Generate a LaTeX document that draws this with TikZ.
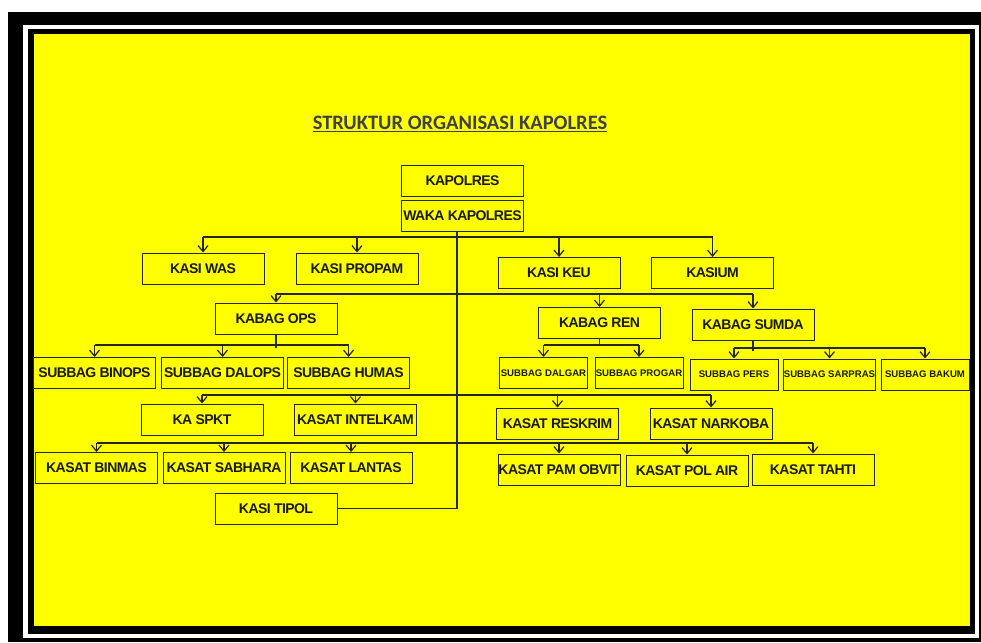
\documentclass[tikz,border=0pt]{standalone}
\usepackage{fontspec}
\setmainfont{Liberation Sans}
\newfontfamily\titlefont{Carlito}
\newfontfamily\boxfont[LetterSpace=-4]{Liberation Sans}
\usetikzlibrary{arrows.meta}
\definecolor{bgyellow}{RGB}{255,255,0}

\begin{document}
\begin{tikzpicture}[
      x=1pt, y=-1pt,
      line width=1.2pt,
      box/.style={draw=black!85, line width=1pt, minimum width=122pt,
        minimum height=31pt, inner sep=0pt, text=black!90,
        font=\boxfont\fontsize{14}{16}\selectfont\bfseries},
      small/.style={box, minimum width=88pt,
        font=\fontsize{9.6}{11}\selectfont\bfseries},
      arr/.style={-{Straight Barb[length=6pt,width=10pt]}},
      wire/.style={draw=black!85}]

    % frame & fill
    \fill[white] (0,0) rectangle (981,642);
    \fill[black] (8,12) rectangle (981,642);
    \fill[white] (23,25) rectangle (979,638);
    \fill[black] (28,29) rectangle (975,634);
    \fill[bgyellow] (34,34) rectangle (970,626);

    % title
    \node[text=black!75] (title) at (460,124)
      {\titlefont\fontsize{20.5}{22}\selectfont\bfseries\underline{STRUKTUR ORGANISASI KAPOLRES}};

    % top
    \node[box] (kapolres) at (462.5,181) {KAPOLRES};
    \node[box] (waka) at (462.5,216) {WAKA KAPOLRES};

    % kasi y=270
    \node[box] (kasiwas) at (203,268.5) {KASI WAS};
    \node[box] (propam) at (357,268.5) {KASI PROPAM};
    \node[box] (keu) at (559,273) {KASI KEU};
    \node[box] (kasium) at (712.5,273) {KASIUM};

    % kabag y=320
    \node[box] (ops) at (276,318.5) {KABAG OPS};
    \node[box] (ren) at (599.5,323) {KABAG REN};
    \node[box] (sumda) at (753,324.5) {KABAG SUMDA};

    % subbag y=373
    \node[box] (binops) at (94.5,373) {SUBBAG BINOPS};
    \node[box] (dalops) at (222.5,373) {SUBBAG DALOPS};
    \node[box] (humas) at (348.5,373) {SUBBAG HUMAS};
    \node[small] (dalgar) at (543.5,373) {SUBBAG DALGAR};
    \node[small] (progar) at (639,373) {SUBBAG PROGAR};
    \node[small] (pers) at (734,374.5) {SUBBAG PERS};
    \node[small] (sarpras) at (829.5,374.5) {SUBBAG SARPRAS};
    \node[small] (bakum) at (925,374.5) {SUBBAG BAKUM};

    % kasat y=420
    \node[box] (spkt) at (202,419.5) {KA SPKT};
    \node[box] (intelkam) at (355.5,419.5) {KASAT INTELKAM};
    \node[box] (reskrim) at (557.5,423.5) {KASAT RESKRIM};
    \node[box] (narkoba) at (711,423.5) {KASAT NARKOBA};

    % kasat y=468
    \node[box] (binmas) at (96.5,468) {KASAT BINMAS};
    \node[box] (sabhara) at (224,468) {KASAT SABHARA};
    \node[box] (lantas) at (351,468) {KASAT LANTAS};
    \node[box] (pamobvit) at (559,469.5) {KASAT PAM OBVIT};
    \node[box] (polair) at (687,470.5) {KASAT POL AIR};
    \node[box] (tahti) at (813,469.5) {KASAT TAHTI};

    \node[box] (tipol) at (276,508.5) {KASI TIPOL};

    % bus lines
    \coordinate (bus1) at (0,237);
    \coordinate (bus2) at (0,294);
    \coordinate (bus3) at (0,345);
    \coordinate (bus3b) at (0,348);
    \coordinate (bus4) at (0,395);
    \coordinate (bus5) at (0,443);

    % wiring (trunk)
    \draw[wire] ([xshift=-5.5pt]waka.south) |- (tipol.east);

    % wiring (kasi)
    \draw[wire] (bus1 -| kasiwas.north) -- (bus1 -| kasium.north);
    \foreach \n in {kasiwas,propam,keu,kasium}
      \draw[wire,arr] (bus1 -| \n.north) -- (\n.north);

    % wiring (kabag)
    \draw[wire] (bus2 -| ops.north) -- (bus2 -| sumda.north);
    \foreach \n in {ops,ren,sumda}
      \draw[wire,arr] (bus2 -| \n.north) -- (\n.north);

    % wiring (subbag)
    \draw[wire] (ops.south) -- ([yshift=-3pt]bus3 -| ops.south);
    \draw[wire] (bus3 -| binops.north) -- (bus3 -| humas.north);
    \foreach \n in {binops,dalops,humas}
      \draw[wire,arr] (bus3 -| \n.north) -- (\n.north);
    \draw[wire] (ren.south) -- (bus3 -| ren.south);
    \draw[wire] (bus3 -| dalgar.north) -- (bus3 -| progar.north);
    \foreach \n in {dalgar,progar}
      \draw[wire,arr] (bus3 -| \n.north) -- (\n.north);
    \draw[wire] (sumda.south) -- ([yshift=-3pt]bus3b -| sumda.south);
    \draw[wire] (bus3b -| pers.north) -- (bus3b -| bakum.north);
    \foreach \n in {pers,sarpras,bakum}
      \draw[wire,arr] (bus3b -| \n.north) -- (\n.north);

    % wiring (kasat)
    \draw[wire] (bus4 -| spkt.north) -- (bus4 -| narkoba.north);
    \foreach \n in {spkt,intelkam,reskrim,narkoba}
      \draw[wire,arr] (bus4 -| \n.north) -- (\n.north);
    \draw[wire] (bus5 -| binmas.north) -- (bus5 -| tahti.north);
    \foreach \n in {binmas,sabhara,lantas,pamobvit,polair,tahti}
      \draw[wire,arr] (bus5 -| \n.north) -- (\n.north);

  \end{tikzpicture}
\end{document}
